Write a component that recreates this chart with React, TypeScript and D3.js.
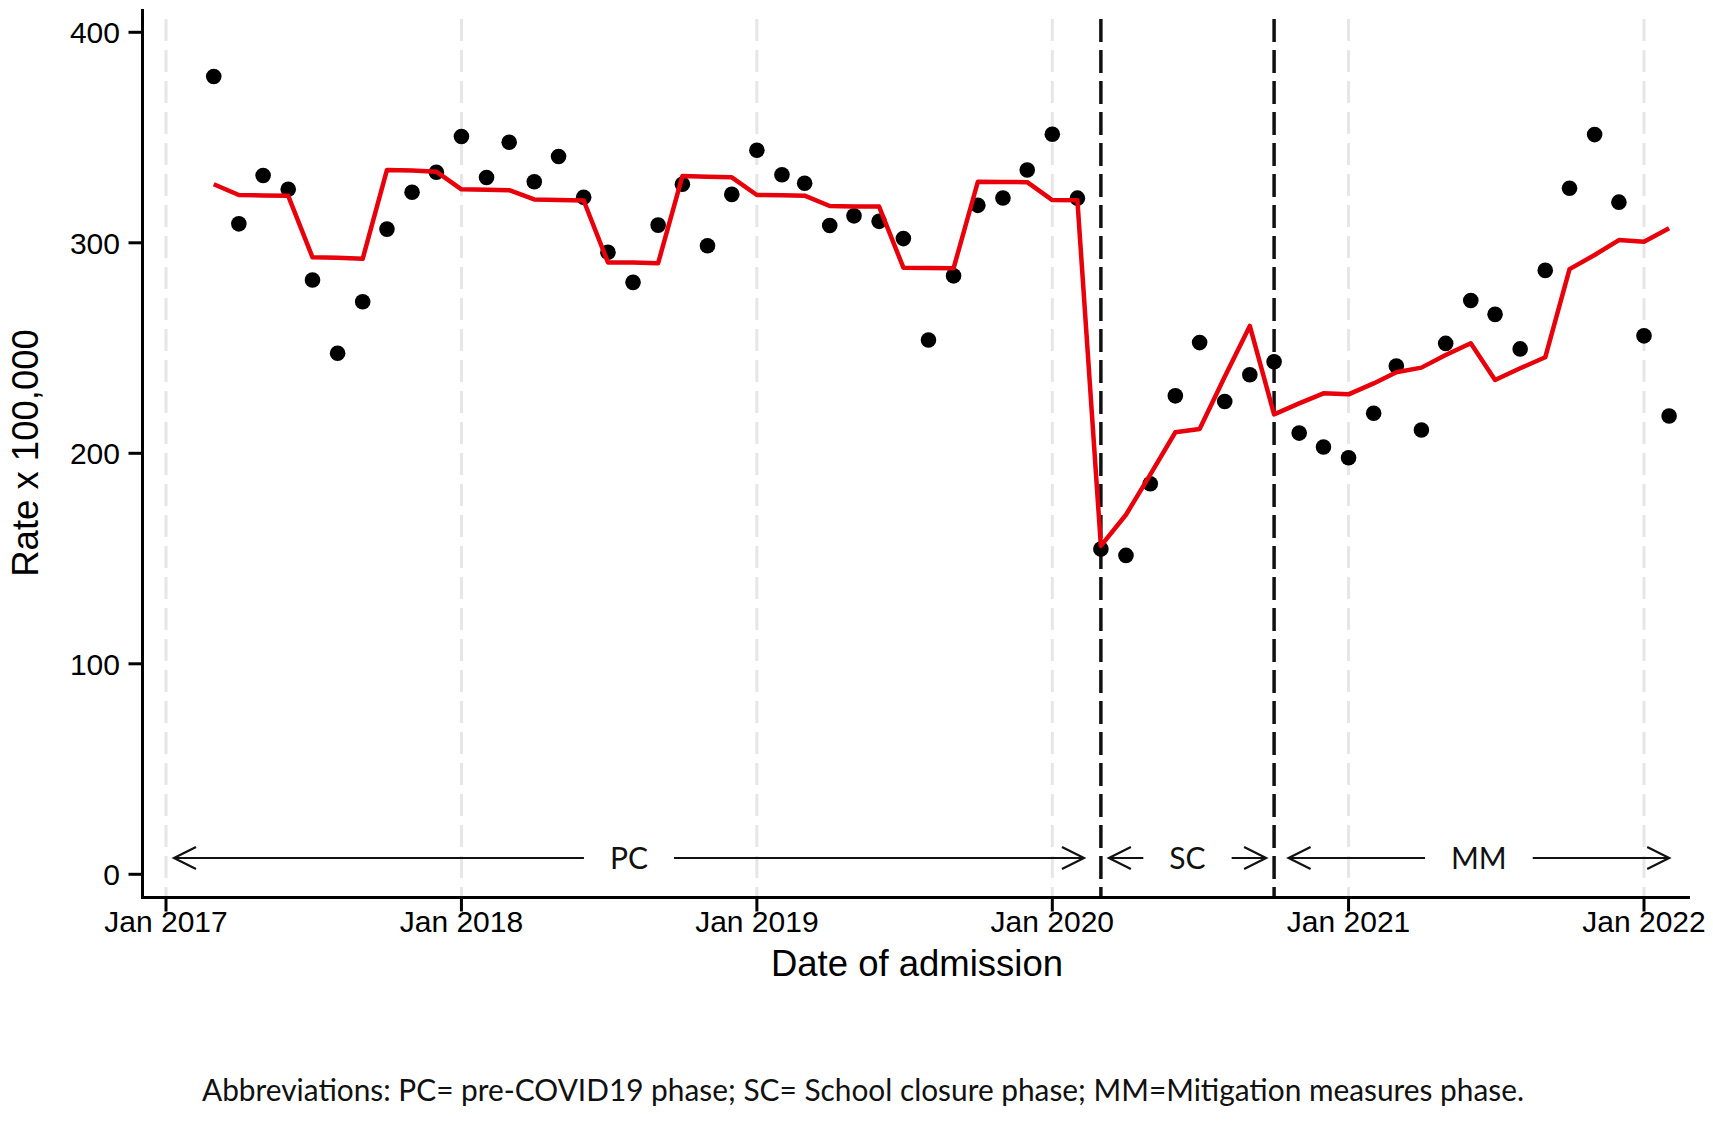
import { useEffect, useRef } from "react"
import * as d3 from "d3"

// monthly admissions rate, Mar 2017 – Feb 2022
const observed = [
  379, 309, 332, 325.4, 282.3, 247.5, 272, 306.5, 324, 333.5,
  350.5, 331, 347.8, 329, 341, 321.6, 295.5, 281.2, 308.4, 327.8, 298.6, 323,
  344, 332.3, 328.3, 308.2, 312.8, 310.2, 302, 253.8, 284.3, 317.8, 321.3, 334.6,
  351.6, 321.2, 154.5, 151.5, 185.5, 227.3, 252.6, 224.6, 237.3, 243.5, 209.6, 203,
  197.9, 219, 241.5, 211.1, 252.2, 272.6, 266, 249.6, 286.9, 325.9, 351.4, 319.3,
  255.8, 217.7,
]

const fitted = [
  327.8, 322.7, 322.5, 322.3, 293.1, 292.9, 292.4, 334.6, 334.3, 333.8,
  325.4, 325.2, 325, 320.6, 320.3, 320.1, 290.7, 290.6, 290.3, 331.7, 331.4, 331.1,
  322.7, 322.6, 322.4, 317.5, 317.3, 317.2, 288.2, 288, 287.9, 329, 328.9, 328.8,
  320.3, 320.2, 156, 170.8, 189.9, 210, 211.5, 236.4, 260.5, 218.5, 223.7, 228.5,
  228, 233.2, 238.5, 240.7, 246.7, 252.3, 234.8, 240.4, 245.6, 287.5, 294.2, 301.3,
  300.5, 306.9,
]

const months = d3.timeMonth.range(new Date(2017, 2, 1), new Date(2022, 2, 1))

const yTicks = [0, 100, 200, 300, 400]
const xTicks = [2017, 2018, 2019, 2020, 2021, 2022].map((yr) => new Date(yr, 0, 1))

const breaks = [new Date(2020, 2, 1), new Date(2020, 9, 1)]

// arrow spans under the plot
const phases = [
  { label: "PC", start: new Date(2017, 0, 1), end: new Date(2020, 1, 19) },
  { label: "SC", start: new Date(2020, 2, 1), end: new Date(2020, 9, 1) },
  { label: "MM", start: new Date(2020, 9, 9), end: new Date(2022, 1, 11) },
]

const footnote =
  "Abbreviations: PC= pre-COVID19 phase; SC= School closure phase; MM=Mitigation measures phase."

export default function App() {
  const svgRef = useRef<SVGSVGElement>(null)

  useEffect(() => {
    if (!svgRef.current) return
    const svg = d3.select(svgRef.current)
    svg.selectAll("*").remove()

    const width = 1713
    const height = 1123
    const axisX = 142.5
    const axisY = 897.5
    const plotTop = 19

    svg.attr("width", width).attr("height", height)
    svg.append("rect").attr("width", width).attr("height", height).attr("fill", "white")

    const x = d3
      .scaleTime()
      .domain([new Date(2017, 0, 1), new Date(2022, 0, 1)])
      .range([166, 1644])
    const y = d3.scaleLinear().domain([0, 400]).range([874.3, 32.3])

    const axisFont = "'Liberation Sans', Arial, sans-serif"
    const noteFont = "Lato, 'Open Sans', sans-serif"

    // light grey yearly gridlines
    xTicks.forEach((d) => {
      svg.append("line")
        .attr("x1", x(d)).attr("x2", x(d))
        .attr("y1", plotTop).attr("y2", axisY)
        .style("stroke", "#e6e6e6")
        .style("stroke-width", 3)
        .style("stroke-dasharray", "22 9")
    })

    // phase breaks
    breaks.forEach((d) => {
      svg.append("line")
        .attr("x1", x(d)).attr("x2", x(d))
        .attr("y1", plotTop).attr("y2", axisY)
        .style("stroke", "#111")
        .style("stroke-width", 3.5)
        .style("stroke-dasharray", "23 8")
    })

    // observed points
    svg.append("g")
      .selectAll("circle")
      .data(observed)
      .join("circle")
      .attr("cx", (_, i) => x(months[i]))
      .attr("cy", (d) => y(d))
      .attr("r", 7.8)
      .style("fill", "#000")

    // fitted line
    const line = d3
      .line<number>()
      .x((_, i) => x(months[i]))
      .y((d) => y(d))
    svg.append("path")
      .datum(fitted)
      .attr("d", line)
      .style("fill", "none")
      .style("stroke", "#e8000b")
      .style("stroke-width", 4.5)
      .style("stroke-linejoin", "round")

    // phase arrows
    const arrowY = 858
    const head = 22
    phases.forEach((p) => {
      const x1 = x(p.start) + 8
      const x2 = x(p.end) - 8
      const mid = (x1 + x2) / 2
      const g = svg.append("g")
      const txt = g.append("text")
        .attr("x", mid)
        .attr("y", arrowY + 11)
        .attr("text-anchor", "middle")
        .style("font-family", noteFont)
        .style("font-size", "30px")
        .style("fill", "#111")
        .text(p.label)
      const tw = (txt.node() as SVGTextElement).getComputedTextLength()
      const gap = tw / 2 + 26
      const stroke = (sel: any) =>
        sel.style("stroke", "#111").style("stroke-width", 2.2).style("fill", "none")
      stroke(g.append("line").attr("x1", x1).attr("x2", mid - gap).attr("y1", arrowY).attr("y2", arrowY))
      stroke(g.append("line").attr("x1", mid + gap).attr("x2", x2).attr("y1", arrowY).attr("y2", arrowY))
      stroke(g.append("path").attr("d", `M${x1 + head},${arrowY - 11}L${x1},${arrowY}L${x1 + head},${arrowY + 11}`))
      stroke(g.append("path").attr("d", `M${x2 - head},${arrowY - 11}L${x2},${arrowY}L${x2 - head},${arrowY + 11}`))
    })

    // axes
    svg.append("line")
      .attr("x1", axisX).attr("x2", axisX)
      .attr("y1", 9).attr("y2", axisY + 1.5)
      .style("stroke", "#000").style("stroke-width", 3)
    svg.append("line")
      .attr("x1", axisX - 1.5).attr("x2", 1690)
      .attr("y1", axisY).attr("y2", axisY)
      .style("stroke", "#000").style("stroke-width", 3)

    yTicks.forEach((t) => {
      svg.append("line")
        .attr("x1", axisX - 14).attr("x2", axisX)
        .attr("y1", y(t)).attr("y2", y(t))
        .style("stroke", "#000").style("stroke-width", 3)
      svg.append("text")
        .attr("x", 120)
        .attr("y", y(t))
        .attr("dy", "0.36em")
        .attr("text-anchor", "end")
        .style("font-family", axisFont)
        .style("font-size", "30px")
        .text(t)
    })

    const fmt = d3.timeFormat("%b %Y")
    xTicks.forEach((t) => {
      svg.append("line")
        .attr("x1", x(t)).attr("x2", x(t))
        .attr("y1", axisY).attr("y2", axisY + 14)
        .style("stroke", "#000").style("stroke-width", 3)
      svg.append("text")
        .attr("x", x(t))
        .attr("y", 932)
        .attr("text-anchor", "middle")
        .style("font-family", axisFont)
        .style("font-size", "30px")
        .text(fmt(t))
    })

    svg.append("text")
      .attr("transform", `translate(38, 453) rotate(-90)`)
      .attr("text-anchor", "middle")
      .style("font-family", axisFont)
      .style("font-size", "36.5px")
      .text("Rate x 100,000")

    svg.append("text")
      .attr("x", 917)
      .attr("y", 976)
      .attr("text-anchor", "middle")
      .style("font-family", axisFont)
      .style("font-size", "36.5px")
      .text("Date of admission")

    svg.append("text")
      .attr("x", 202)
      .attr("y", 1101)
      .attr("textLength", 1322)
      .attr("lengthAdjust", "spacingAndGlyphs")
      .style("font-family", noteFont)
      .style("font-size", "30px")
      .style("fill", "#111")
      .text(footnote)
  }, [])

  return <svg ref={svgRef} style={{ position: "absolute", left: 0, top: 0 }} />
}
